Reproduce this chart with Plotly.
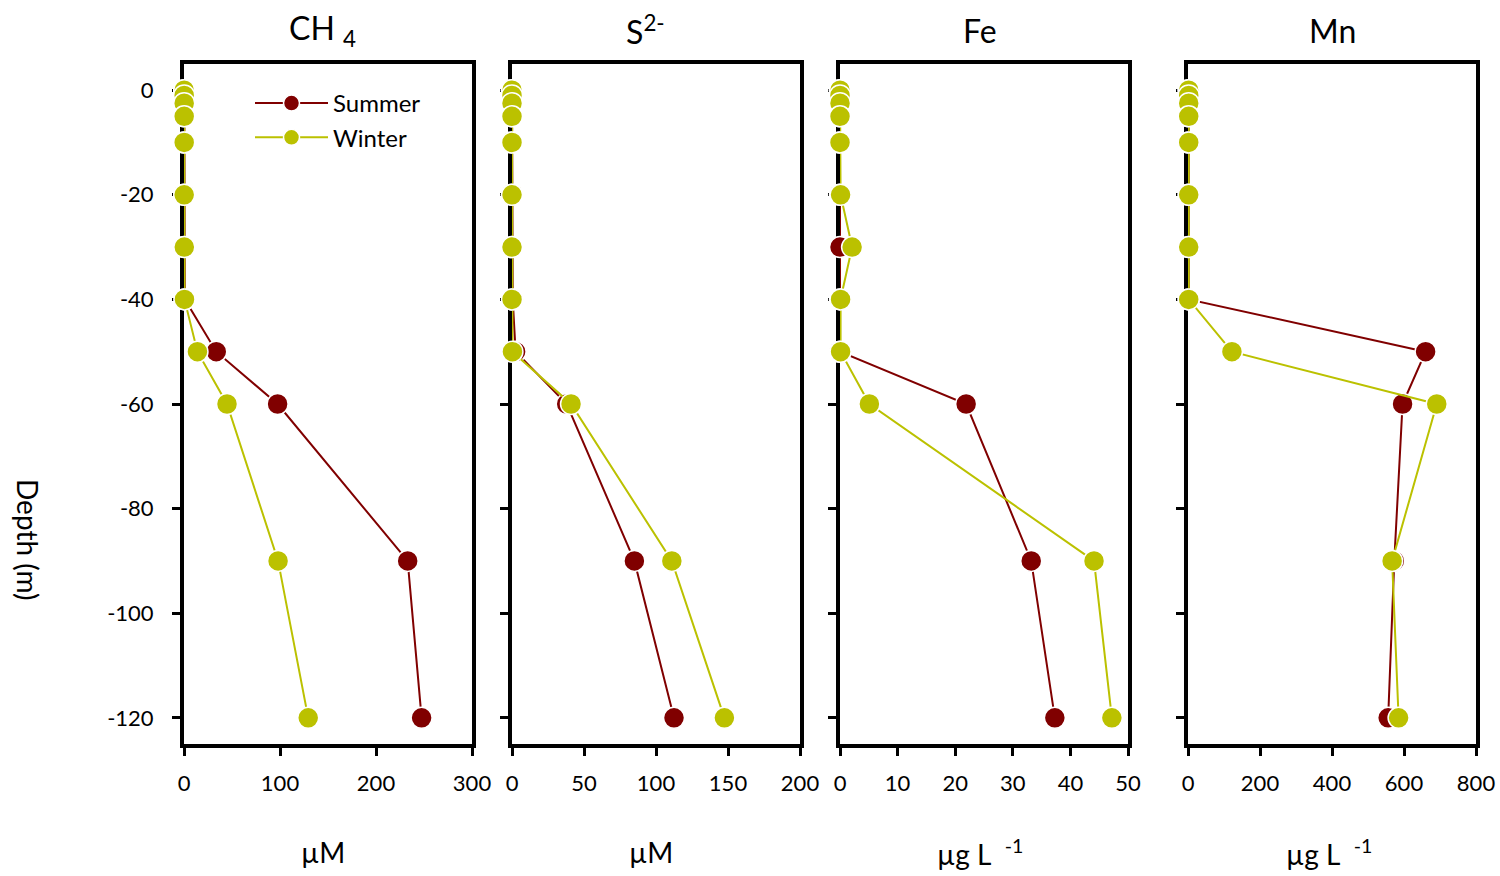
import plotly.graph_objects as go

W, H = 1500, 876

depth = [0, -1, -2.5, -5, -10, -20, -30, -40, -50, -60, -90, -120]

ch4_summer = [0.3, 0.3, 0.3, 0.3, 0.3, 0.3, 0.5, 0.8, 33.6, 97.5, 233, 247.5]
ch4_winter = [0.2, 0.2, 0.2, 0.2, 0.2, 0.2, 0.3, 0.5, 14, 44.8, 98, 129.4]
s_summer = [0, 0, 0, 0, 0, 0, 0, 0.5, 2.5, 38, 85, 112.5]
s_winter = [0, 0, 0, 0, 0, 0, 0, 0, 0.3, 41, 111, 147.5]
fe_summer = [0, 0, 0, 0, 0, 0, 0, 0, 0, 21.9, 33.2, 37.3]
fe_winter = [0, 0, 0, 0, 0, 0.1, 2.1, 0.1, 0.1, 5.1, 44.1, 47.2]
mn_summer = [2, 2, 2, 2, 2, 2, 2, 2, 660, 596, 573, 556]
mn_winter = [2, 2, 2, 2, 2, 2, 2, 2, 122, 691, 567, 585]

panel_titles = ["CH <sub>4</sub>", "S<sup>2-</sup>", "Fe", "Mn"]
unit_labels = ["µM", "µM", "µg L  <sup>-1</sup>", "µg L  <sup>-1</sup>"]
x_ranges = [[0, 300], [0, 200], [0, 50], [0, 800]]
x_ticks = [[0, 100, 200, 300], [0, 50, 100, 150, 200],
           [0, 10, 20, 30, 40, 50], [0, 200, 400, 600, 800]]
y_ticks = [0, -20, -40, -60, -80, -100, -120]
y_ticktext = ["0", "-20", "-40", "-60", "-80", "-100", "-120"]
summer_series = [ch4_summer, s_summer, fe_summer, mn_summer]
winter_series = [ch4_winter, s_winter, fe_winter, mn_winter]

SUMMER = "#800000"
WINTER = "#BBC100"
FONT = "Lato"

panels_px = [(184, 472), (512, 800), (840, 1128), (1188, 1476)]
top_px, bot_px = 64, 744
title_x = [322, 645, 980, 1332]
unit_x = [323, 651, 980, 1329]

fig = go.Figure()

for i in range(4):
    xa = "x" if i == 0 else f"x{i+1}"
    ya = "y" if i == 0 else f"y{i+1}"
    for name, vals, col, grp in [("Summer", summer_series[i], SUMMER, "s"),
                                 ("Winter", winter_series[i], WINTER, "w")]:
        fig.add_trace(go.Scatter(
            x=vals, y=depth, name=name, mode="lines+markers",
            xaxis=xa, yaxis=ya, cliponaxis=False,
            legendgroup=grp, showlegend=(i == 0),
            line=dict(color=col, width=2),
            marker=dict(color=col, size=21, line=dict(color="white", width=1.5)),
        ))

    l, r = panels_px[i]
    xkey = "xaxis" if i == 0 else f"xaxis{i+1}"
    ykey = "yaxis" if i == 0 else f"yaxis{i+1}"
    fig.layout[xkey] = dict(
        domain=[l / W, r / W], range=x_ranges[i], anchor=ya,
        tickvals=x_ticks[i], ticktext=[str(v) for v in x_ticks[i]],
        ticks="outside", ticklen=8, tickwidth=3, tickcolor="black",
        showline=True, linecolor="black", linewidth=4, mirror=True,
        showgrid=False, zeroline=False, layer="below traces",
        tickfont=dict(family=FONT, size=22, color="black"),
        ticklabelstandoff=9, fixedrange=True, automargin=False,
    )
    fig.layout[ykey] = dict(
        domain=[1 - bot_px / H, 1 - top_px / H], range=[-125, 5], anchor=xa,
        tickvals=y_ticks, ticktext=y_ticktext, showticklabels=(i == 0),
        ticks="outside", ticklen=8, tickwidth=3, tickcolor="black",
        showline=True, linecolor="black", linewidth=4, mirror=True,
        showgrid=False, zeroline=False, layer="below traces",
        tickfont=dict(family=FONT, size=22, color="black"),
        ticklabelstandoff=14, fixedrange=True, automargin=False,
    )
    fig.add_annotation(text=panel_titles[i], x=title_x[i] / W, y=1 - 30 / H,
                       xref="paper", yref="paper", showarrow=False,
                       xanchor="center", yanchor="middle",
                       font=dict(family=FONT, size=32, color="black"))
    fig.add_annotation(text=unit_labels[i], x=unit_x[i] / W, y=1 - 852 / H,
                       xref="paper", yref="paper", showarrow=False,
                       xanchor="center", yanchor="middle",
                       font=dict(family=FONT, size=28, color="black"))

fig.add_annotation(text="Depth (m)", x=28 / W, y=1 - 540 / H, xref="paper",
                   yref="paper", showarrow=False, textangle=90,
                   xanchor="center", yanchor="middle",
                   font=dict(family=FONT, size=28, color="black"))

fig.update_layout(
    width=W, height=H,
    margin=dict(l=0, r=0, t=0, b=0, pad=0, autoexpand=False),
    paper_bgcolor="white", plot_bgcolor="white",
    showlegend=True,
    legend=dict(x=250 / W, y=1 - 81 / H, xanchor="left", yanchor="top",
                bgcolor="rgba(0,0,0,0)", traceorder="grouped",
                tracegroupgap=0, itemwidth=73,
                font=dict(family=FONT, size=24, color="black")),
)

fig.write_html("out.html")
